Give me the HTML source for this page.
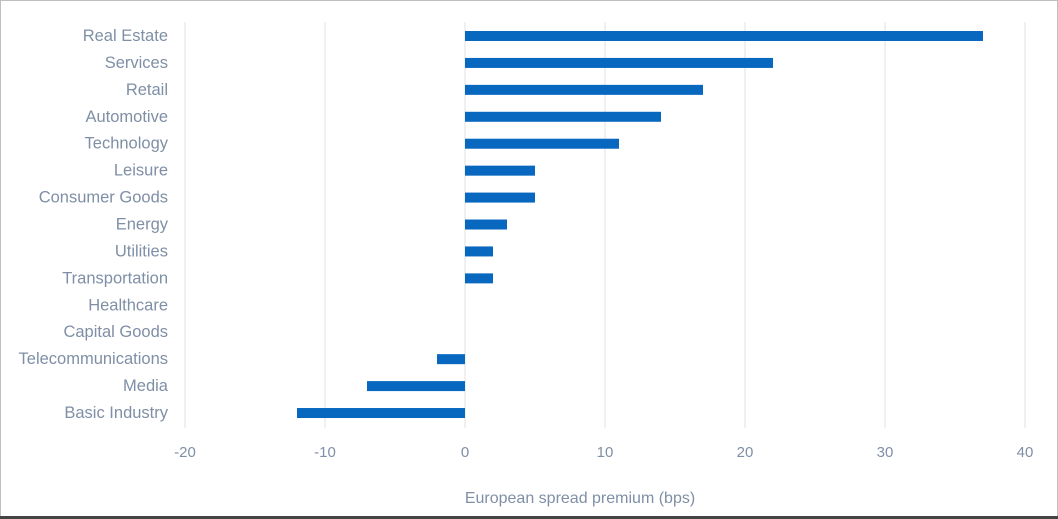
<!DOCTYPE html>
<html><head><meta charset="utf-8"><style>
body{margin:0;background:#fff;}
svg{display:block;font-family:"Liberation Sans",sans-serif;}
</style></head><body>
<svg id="c" width="1058" height="519">
<rect x="0.5" y="0.5" width="1057" height="517" fill="#fff" stroke="#bfbfbf"/>
<line x1="0" y1="517.5" x2="1058" y2="517.5" stroke="#444" stroke-width="3"/>
<g id="grid"></g><g id="bars"></g><g id="labels"></g><g id="ticks"></g>
<text x="580" y="503" text-anchor="middle" font-size="16" fill="#7f8fa6">European spread premium (bps)</text>
</svg>
<script>
const categories=["Real Estate","Services","Retail","Automotive","Technology","Leisure","Consumer Goods","Energy","Utilities","Transportation","Healthcare","Capital Goods","Telecommunications","Media","Basic Industry"];
const values=[37,22,17,14,11,5,5,3,2,2,0,0,-2,-7,-12];
const tickValues=[-20,-10,0,10,20,30,40];
const ns="http://www.w3.org/2000/svg";
const x=v=>465+v*14;
const y=i=>36+i*26.93;
function mk(t,a,p){const e=document.createElementNS(ns,t);for(const k in a)e.setAttribute(k,a[k]);p.appendChild(e);return e;}
const G=document.getElementById('grid'),B=document.getElementById('bars'),L=document.getElementById('labels'),T=document.getElementById('ticks');
tickValues.forEach(v=>{
 const l=mk('line',{x1:x(v),x2:x(v),y1:22,y2:428,stroke:'#e0e0e0','stroke-width':1},G);
 
 
 const t=mk('text',{x:x(v),y:457,'text-anchor':'middle','font-size':15,fill:'#7f8fa6'},T);
 t.textContent=v;
 
 
});
categories.forEach((c,i)=>{
 const v=values[i];
 const r=mk('rect',{x:Math.min(x(0),x(v)),y:y(i)-5,width:Math.abs(x(v)-x(0)),height:10,fill:'#0868c0'},B);
 
 
 const t=mk('text',{x:168,y:y(i)+5,'text-anchor':'end','font-size':16.5,fill:'#7f8fa6'},L);
 t.textContent=c;
 
 
});
</script>
</body></html>
